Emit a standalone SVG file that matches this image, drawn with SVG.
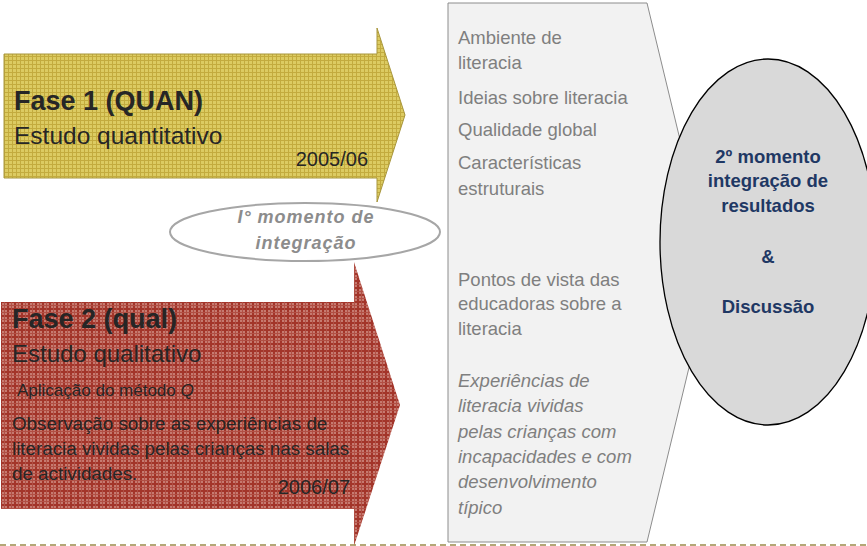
<svg xmlns="http://www.w3.org/2000/svg" width="867" height="546" viewBox="0 0 867 546">
<defs>
<pattern id="patY" width="4" height="4" patternUnits="userSpaceOnUse">
<rect width="4" height="4" fill="#dccb62"/>
<rect width="4" height="1" fill="#c3ab3e"/>
<rect width="1" height="4" fill="#c3ab3e"/>
</pattern>
<pattern id="patR" width="7" height="7" patternUnits="userSpaceOnUse">
<rect width="7" height="7" fill="#c67a70"/>
<rect width="7" height="2" fill="#a3352a"/>
<rect width="2" height="7" fill="#a3352a"/>
<rect y="4" width="7" height="1" fill="#b14f44"/>
<rect x="4" width="1" height="7" fill="#b14f44"/>
</pattern>
<style>
.t{font-family:"Liberation Sans",Arial,sans-serif;fill:#262626}
.b{font-weight:bold}
.g{font-family:"Liberation Sans",Arial,sans-serif;fill:#7f7f7f;font-size:18.5px}
.n{font-family:"Liberation Sans",Arial,sans-serif;fill:#1f3864;font-weight:bold;font-size:18.5px;text-anchor:middle}
</style>
</defs>
<rect width="867" height="546" fill="#ffffff"/>

<g id="chevron">
<polygon points="448,3 647,3 712,272 647,542 448,542" fill="#f2f2f2" stroke="#8c8c8c" stroke-width="1"/>
<text class="g" x="458" y="44">Ambiente de</text>
<text class="g" x="458" y="69">literacia</text>
<text class="g" x="458" y="104">Ideias sobre literacia</text>
<text class="g" x="458" y="136">Qualidade global</text>
<text class="g" x="458" y="169">Características</text>
<text class="g" x="458" y="195">estruturais</text>
<text class="g" x="458" y="286">Pontos de vista das</text>
<text class="g" x="458" y="310">educadoras sobre a</text>
<text class="g" x="458" y="335">literacia</text>
<g font-style="italic">
<text class="g" x="458" y="387">Experiências de</text>
<text class="g" x="458" y="412">literacia vividas</text>
<text class="g" x="458" y="438">pelas crianças com</text>
<text class="g" x="458" y="463">incapacidades e com</text>
<text class="g" x="458" y="488">desenvolvimento</text>
<text class="g" x="458" y="514">típico</text>
</g>
</g>

<g id="momento2">
<ellipse cx="768" cy="242" rx="108" ry="183" fill="#d9d9d9" stroke="#000000" stroke-width="1.3"/>
<text class="n" x="768" y="163">2º momento</text>
<text class="n" x="768" y="187">integração de</text>
<text class="n" x="768" y="212">resultados</text>
<text class="n" x="768" y="263">&amp;</text>
<text class="n" x="768" y="313">Discussão</text>
</g>

<g id="fase1">
<polygon points="4,54 377,54 377,28 405,115 377,202 377,178 4,178" fill="url(#patY)" stroke="#a8963c" stroke-width="1"/>
<text class="t b" x="14" y="110" font-size="27">Fase 1 (QUAN)</text>
<text class="t" x="14" y="144" font-size="24.5">Estudo quantitativo</text>
<text class="t" x="368" y="166" font-size="20" text-anchor="end">2005/06</text>
</g>

<g id="fase2">
<polygon points="1,302 354,302 354,262 400,405 354,546 354,509 1,509" fill="url(#patR)"/>
<text class="t b" x="12" y="328" font-size="27">Fase 2 (qual)</text>
<text class="t" x="12" y="362" font-size="24">Estudo qualitativo</text>
<text class="t" x="17" y="396" font-size="17">Aplicação do método <tspan font-style="italic">Q</tspan></text>
<text class="t" x="12" y="430" font-size="18.8">Observação sobre as experiências de</text>
<text class="t" x="12" y="455" font-size="18.8">literacia vividas pelas crianças nas salas</text>
<text class="t" x="12" y="480" font-size="18.8">de actividades.</text>
<text class="t" x="350" y="494" font-size="20" text-anchor="end">2006/07</text>
</g>

<g id="momento1">
<ellipse cx="305" cy="232" rx="135" ry="29" fill="#ffffff" stroke="#a6a6a6" stroke-width="2"/>
<text x="306" y="223" font-family="Liberation Sans, Arial, sans-serif" font-size="18" font-weight="bold" font-style="italic" fill="#8c8c8c" letter-spacing="1" text-anchor="middle">I° momento de</text>
<text x="306" y="249" font-family="Liberation Sans, Arial, sans-serif" font-size="18" font-weight="bold" font-style="italic" fill="#8c8c8c" letter-spacing="1" text-anchor="middle">integração</text>
</g>

<g id="connectors">
<line x1="0" y1="545" x2="867" y2="545" stroke="#9c8a4a" stroke-width="1.5" stroke-dasharray="6,4"/>
</g>
</svg>
